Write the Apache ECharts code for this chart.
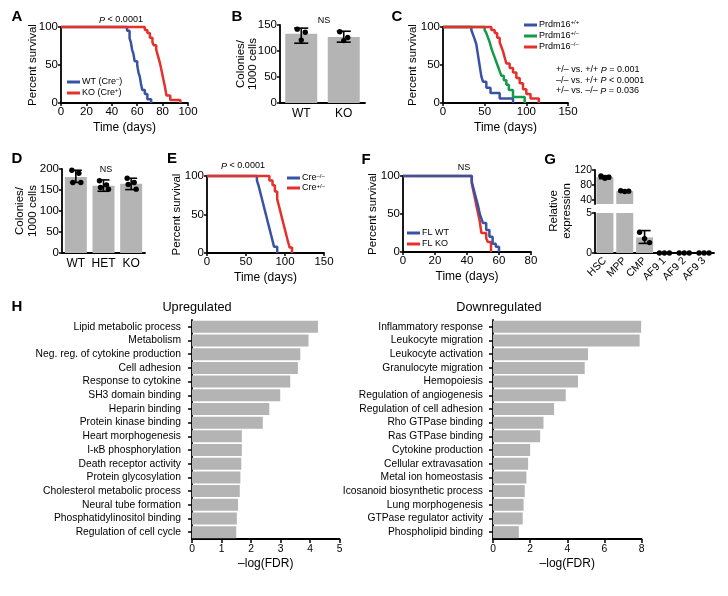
<!DOCTYPE html>
<html>
<head>
<meta charset="utf-8">
<script src="https://cdn.jsdelivr.net/npm/echarts@6/dist/echarts.min.js"></script>
<style>
html, body { margin: 0; padding: 0; background: #fff; }
#chart { width: 728px; height: 596px; }
</style>
</head>
<body>
<div id="chart"></div>
<script>
// ---- data ----
// A: survival, WT vs KO
var aTimeWT = [0, 52, 54, 55, 56, 57, 58, 60, 61, 62, 63, 64, 66, 68, 71];
var aSurvWT = [100, 95, 85, 80, 70, 65, 55, 50, 40, 35, 25, 17, 12, 5, 0];
var aTimeKO = [0, 66, 68, 70, 72, 73, 75, 76, 77, 78, 79, 80, 81, 82, 83, 86, 94];
var aSurvKO = [100, 96, 92, 86, 80, 76, 70, 64, 58, 52, 44, 36, 28, 20, 10, 4, 0];

// B: colonies
var bCats = ['WT', 'KO'];
var bMeans = [133, 127];
var bErrLow = [115, 117];
var bErrHigh = [144, 138];
var bDots = [[142, 136, 121], [137, 126, 120]];

// C: survival by genotype
var cTimeWT = [0, 34, 36, 38, 40, 41, 42, 43, 44, 45, 46, 48, 52, 57, 68, 84];
var cSurvWT = [100, 96, 90, 84, 77, 70, 63, 56, 49, 42, 35, 28, 20, 13, 6, 0];
var cTimeHet = [0, 50, 52, 54, 56, 58, 60, 62, 64, 66, 68, 70, 73, 76, 79, 84, 98];
var cSurvHet = [100, 96, 92, 86, 80, 72, 66, 60, 54, 48, 42, 36, 30, 24, 17, 8, 0];
var cTimeKO = [0, 58, 62, 65, 68, 70, 72, 74, 76, 80, 84, 88, 92, 96, 100, 105, 115];
var cSurvKO = [100, 96, 92, 86, 80, 74, 68, 60, 52, 46, 40, 33, 26, 18, 12, 6, 0];
var cPvals = ['+/\u2013 vs. +/+ {i|P} = 0.001', '\u2013/\u2013 vs. +/+ {i|P} < 0.0001', '+/\u2013 vs. \u2013/\u2013 {i|P} = 0.036'];

// D: colonies
var dCats = ['WT', 'HET', 'KO'];
var dMeans = [181, 160, 165];
var dErrLow = [168, 147, 151];
var dErrHigh = [197, 174, 178];
var dDots = [[197, 190, 168, 168], [172, 162, 156, 152], [178, 168, 163, 152]];

// E: survival Cre
var eTimeWT = [0, 64, 66, 68, 70, 72, 74, 76, 78, 80, 82, 84, 86, 90];
var eSurvWT = [100, 94, 88, 80, 72, 64, 56, 48, 40, 32, 24, 16, 8, 0];
var eTimeKO = [0, 80, 84, 87, 90, 92, 94, 96, 98, 100, 102, 104, 106, 109];
var eSurvKO = [100, 94, 88, 80, 70, 62, 54, 46, 38, 30, 22, 14, 7, 0];

// F: survival FL
var fTimeWT = [0, 43, 44, 45, 46, 47, 48, 49, 50, 52, 54, 56, 58, 60];
var fSurvWT = [100, 92, 84, 76, 68, 60, 50, 44, 38, 29, 20, 11, 7, 0];
var fTimeKO = [0, 43, 44, 45, 46, 47, 48, 49, 52, 53, 55];
var fSurvKO = [100, 90, 80, 70, 60, 50, 40, 25, 18, 13, 0];

// G: relative expression (broken axis)
var gCats = ['HSC', 'MPP', 'CMP', 'AF9 1', 'AF9 2', 'AF9 3'];
var gMeans = [101, 64, 1.95, 0, 0, 0];
var gErrLow = [97, 62.5, 1.2, 0, 0, 0];
var gErrHigh = [105, 65.5, 2.8, 0, 0, 0];
var gDots = [[104, 101, 98], [65, 64, 63], [2.6, 1.8, 1.3], [0, 0, 0], [0, 0, 0], [0, 0, 0]];
var gLowMax = 5;
var gHighMin = 30;

// H: GO terms
var hUpCats = ['Lipid metabolic process', 'Metabolism', 'Neg. reg. of cytokine production', 'Cell adhesion',
  'Response to cytokine', 'SH3 domain binding', 'Heparin binding', 'Protein kinase binding',
  'Heart morphogenesis', 'I-\u03baB phosphorylation', 'Death receptor activity', 'Protein glycosylation',
  'Cholesterol metabolic process', 'Neural tube formation', 'Phosphatidylinositol binding', 'Regulation of cell cycle'];
var hUpVals = [4.27, 3.95, 3.67, 3.59, 3.33, 2.99, 2.62, 2.4, 1.69, 1.69, 1.67, 1.64, 1.62, 1.56, 1.52, 1.5];
var hDownCats = ['Inflammatory response', 'Leukocyte migration', 'Leukocyte activation', 'Granulocyte migration',
  'Hemopoiesis', 'Regulation of angiogenesis', 'Regulation of cell adhesion', 'Rho GTPase binding',
  'Ras GTPase binding', 'Cytokine production', 'Cellular extravasation', 'Metal ion homeostasis',
  'Icosanoid biosynthetic process', 'Lung morphogenesis', 'GTPase regulator activity', 'Phospholipid binding'];
var hDownVals = [7.98, 7.9, 5.12, 4.94, 4.58, 3.92, 3.29, 2.72, 2.54, 2.0, 1.89, 1.8, 1.71, 1.65, 1.6, 1.39];

// ---- styling ----
var FONT = "'Liberation Sans', Arial, Helvetica, sans-serif";
var BLUE = '#3953a4', RED = '#e4312b', GREEN = '#149a4a', GREY = '#b4b4b4';

var myChart = echarts.init(document.getElementById('chart'));

function merge(a, b) {
  for (var k in b) {
    if (b[k] && typeof b[k] === 'object' && !Array.isArray(b[k]) && a[k] && typeof a[k] === 'object') merge(a[k], b[k]);
    else a[k] = b[k];
  }
  return a;
}
function pairs(t, s) { return t.map(function (x, i) { return [x, s[i]]; }); }

function axis(o) {
  return merge({
    gridIndex: 0,
    axisLine: { show: true, onZero: false, lineStyle: { color: '#000', width: 1.8 } },
    axisTick: { show: true, length: 3, lineStyle: { color: '#000', width: 1.5 } },
    axisLabel: { color: '#000', fontSize: 11.5, margin: 3, fontFamily: FONT },
    splitLine: { show: false },
    nameLocation: 'middle',
    nameMoveOverlap: false,
    nameTextStyle: { color: '#000', fontSize: 11.5, fontFamily: FONT }
  }, o);
}
function survX(g, max, interval, gap) {
  return axis({ gridIndex: g, type: 'value', min: 0, max: max, interval: interval, name: 'Time (days)', nameGap: gap || 19,
    nameTextStyle: { fontSize: 12 } });
}
function survY(g, gap) {
  return axis({ gridIndex: g, type: 'value', min: 0, max: 100, interval: 50, name: 'Percent survival', nameGap: gap });
}
function km(name, g, t, s, color, z) {
  return { type: 'line', name: name, xAxisIndex: g, yAxisIndex: g, data: pairs(t, s), step: 'end', symbol: 'none',
    clip: false, z: z, color: color, lineStyle: { color: color, width: 2.5 }, itemStyle: { color: color } };
}
function errSeries(g, low, high, cap) {
  var data = [];
  low.forEach(function (v, i) { if (high[i] > v) data.push([i, v, high[i]]); });
  return { type: 'custom', xAxisIndex: g, yAxisIndex: g, data: data, clip: false, z: 5,
    renderItem: function (params, api) {
      var a = api.coord([api.value(0), api.value(1)]);
      var b = api.coord([api.value(0), api.value(2)]);
      var st = { stroke: '#000', lineWidth: 1.6 };
      return { type: 'group', children: [
        { type: 'line', shape: { x1: a[0], y1: a[1], x2: b[0], y2: b[1] }, style: st },
        { type: 'line', shape: { x1: a[0] - cap, y1: a[1], x2: a[0] + cap, y2: a[1] }, style: st },
        { type: 'line', shape: { x1: b[0] - cap, y1: b[1], x2: b[0] + cap, y2: b[1] }, style: st }
      ] };
    } };
}
function dotSeries(g, data, offsets) {
  return { type: 'custom', xAxisIndex: g, yAxisIndex: g, data: data, clip: false, z: 6,
    renderItem: function (params, api) {
      var p = api.coord([api.value(0), api.value(1)]);
      return { type: 'circle', shape: { cx: p[0] + offsets[api.value(2)], cy: p[1], r: 2.7 }, style: { fill: '#000' } };
    } };
}
function flatDots(groups, keep) {
  var out = [];
  groups.forEach(function (grp, i) {
    grp.forEach(function (v, j) { if (!keep || keep(v)) out.push([i, v, j]); });
  });
  return out;
}
function supFmt(name) { return name.replace(/(Cre|Prdm16)([+\u2013\/]+)/, '$1{s|$2}'); }
function legend(names, left, top, lh) {
  return { data: names, left: left, top: top, orient: 'vertical', icon: 'rect', itemWidth: 13, itemHeight: 3,
    itemGap: 0, padding: 0, selectedMode: false, formatter: supFmt,
    textStyle: { color: '#000', fontSize: 9, fontFamily: FONT, lineHeight: lh, padding: [0, 0, 0, -3],
      rich: { s: { fontSize: 6, fontFamily: FONT, verticalAlign: 'top', lineHeight: lh } } } };
}
function txt(x, y, text, st) {
  return { type: 'text', x: x, y: y, silent: true,
    style: merge({ text: text, fill: '#000', fontFamily: FONT, fontSize: 9, align: 'left', verticalAlign: 'middle',
      textAlign: 'left', textVerticalAlign: 'middle',
      rich: { i: { fontStyle: 'italic', fontSize: 9, fontFamily: FONT } } }, st || {}) };
}
function letter(x, y, s) { return txt(x, y, s, { fontSize: 15, fontWeight: 'bold', align: 'center', textAlign: 'center' }); }

var grids = [
  { left: 61, top: 27, width: 127, height: 76 },    // 0 A
  { left: 280, top: 25, width: 85, height: 78 },    // 1 B
  { left: 443, top: 27, width: 125, height: 76 },   // 2 C
  { left: 62, top: 169, width: 83, height: 84 },    // 3 D
  { left: 207, top: 176, width: 117, height: 77 },  // 4 E
  { left: 403, top: 176, width: 128, height: 76 },  // 5 F
  { left: 595, top: 170, width: 119, height: 34 },  // 6 G upper
  { left: 595, top: 213, width: 119, height: 40 },  // 7 G lower
  { left: 192, top: 320, width: 147.5, height: 219 }, // 8 H up
  { left: 493, top: 320, width: 148.5, height: 219 }  // 9 H down
].map(function (g) { g.containLabel = false; g.outerBoundsMode = 'none'; return g; });

var catX = function (g, data, extra) {
  return axis(merge({ gridIndex: g, type: 'category', data: data, axisTick: { show: false },
    axisLabel: { fontSize: 12, margin: 5, interval: 0 } }, extra || {}));
};

// the broken G axis is two stacked grids: each segment shows its part of every bar
var gUpperBars = gMeans.map(function (v) { return v > gLowMax ? v : '-'; });
var gLowerBars = gMeans.map(function (v) { return Math.min(v, gLowMax); });
var gInUpper = function (i) { return gMeans[i] > gLowMax; };

var option = {
  animation: false,
  backgroundColor: '#fff',
  textStyle: { fontFamily: FONT },
  grid: grids,
  xAxis: [
    survX(0, 100, 20),
    catX(1, bCats),
    survX(2, 150, 50),
    catX(3, dCats),
    survX(4, 150, 50),
    survX(5, 80, 20),
    catX(6, gCats, { show: false }),
    catX(7, gCats, { axisLabel: { rotate: 45, fontSize: 10.5, margin: 6 } }),
    axis({ gridIndex: 8, type: 'value', min: 0, max: 5, interval: 1, name: '\u2013log(FDR)', nameGap: 19,
      axisTick: { length: 4 }, axisLabel: { fontSize: 10.3, margin: 5 }, nameTextStyle: { fontSize: 12 } }),
    axis({ gridIndex: 9, type: 'value', min: 0, max: 8, interval: 2, name: '\u2013log(FDR)', nameGap: 19,
      axisTick: { length: 4 }, axisLabel: { fontSize: 10.3, margin: 5 }, nameTextStyle: { fontSize: 12 } })
  ],
  yAxis: [
    survY(0, 22),
    axis({ gridIndex: 1, type: 'value', min: 0, max: 150, interval: 50, name: 'Colonies/\n1000 cells', nameGap: 21,
      nameTextStyle: { lineHeight: 12 } }),
    survY(2, 24),
    axis({ gridIndex: 3, type: 'value', min: 0, max: 200, interval: 50, name: 'Colonies/\n1000 cells', nameGap: 23,
      nameTextStyle: { lineHeight: 13 } }),
    survY(4, 24),
    survY(5, 24),
    axis({ gridIndex: 6, type: 'value', min: gHighMin, max: 120, axisLabel: { fontSize: 10.5, customValues: [40, 80, 120] },
      axisTick: { customValues: [40, 80, 120] } }),
    axis({ gridIndex: 7, type: 'value', min: 0, max: gLowMax, interval: 5, axisLabel: { fontSize: 10.5 } }),
    axis({ gridIndex: 8, type: 'category', data: hUpCats, inverse: true,
      axisTick: { length: 4, alignWithLabel: true }, axisLabel: { fontSize: 10.3, margin: 11, interval: 0 } }),
    axis({ gridIndex: 9, type: 'category', data: hDownCats, inverse: true,
      axisTick: { length: 4, alignWithLabel: true }, axisLabel: { fontSize: 10.3, margin: 10, interval: 0 } })
  ],
  legend: [
    legend(['WT (Cre\u2013)', 'KO (Cre+)'], 67, 76.5, 11),
    legend(['Prdm16+/+', 'Prdm16+/\u2013', 'Prdm16\u2013/\u2013'], 524, 19.5, 11),
    legend(['Cre\u2013/\u2013', 'Cre+/\u2013'], 287, 173, 10),
    legend(['FL WT', 'FL KO'], 407, 227.5, 11)
  ],
  series: [
    // A
    km('WT (Cre\u2013)', 0, aTimeWT, aSurvWT, BLUE, 2),
    km('KO (Cre+)', 0, aTimeKO, aSurvKO, RED, 3),
    // B
    { type: 'bar', xAxisIndex: 1, yAxisIndex: 1, data: bMeans, barWidth: 32, itemStyle: { color: GREY } },
    errSeries(1, bErrLow, bErrHigh, 7),
    dotSeries(1, flatDots(bDots), [-4, 4, 0]),
    // C
    km('Prdm16+/+', 2, cTimeWT, cSurvWT, BLUE, 2),
    km('Prdm16+/\u2013', 2, cTimeHet, cSurvHet, GREEN, 3),
    km('Prdm16\u2013/\u2013', 2, cTimeKO, cSurvKO, RED, 4),
    // D
    { type: 'bar', xAxisIndex: 3, yAxisIndex: 3, data: dMeans, barWidth: 22, itemStyle: { color: GREY } },
    errSeries(3, dErrLow, dErrHigh, 6),
    dotSeries(3, flatDots(dDots), [-4, 3, -3, 5]),
    // E
    km('Cre\u2013/\u2013', 4, eTimeWT, eSurvWT, BLUE, 2),
    km('Cre+/\u2013', 4, eTimeKO, eSurvKO, RED, 3),
    // F
    km('FL KO', 5, fTimeKO, fSurvKO, RED, 2),
    km('FL WT', 5, fTimeWT, fSurvWT, BLUE, 3),
    // G upper segment
    { type: 'bar', xAxisIndex: 6, yAxisIndex: 6, barWidth: 17, itemStyle: { color: GREY }, data: gUpperBars },
    errSeries(6, gErrLow.map(function (v, i) { return gInUpper(i) ? v : 0; }),
      gErrHigh.map(function (v, i) { return gInUpper(i) ? v : 0; }), 6),
    dotSeries(6, flatDots(gDots, function (v) { return v > gLowMax; }), [-4, 4, 0]),
    // G lower segment
    { type: 'bar', xAxisIndex: 7, yAxisIndex: 7, barWidth: 17, itemStyle: { color: GREY }, data: gLowerBars },
    errSeries(7, gErrLow.map(function (v, i) { return gInUpper(i) ? 0 : v; }),
      gErrHigh.map(function (v, i) { return gInUpper(i) ? 0 : v; }), 6),
    dotSeries(7, flatDots(gDots, function (v) { return v <= gLowMax; }), [-5, 0, 5]),
    // H
    { type: 'bar', xAxisIndex: 8, yAxisIndex: 8, data: hUpVals, barWidth: 12, itemStyle: { color: GREY } },
    { type: 'bar', xAxisIndex: 9, yAxisIndex: 9, data: hDownVals, barWidth: 12, itemStyle: { color: GREY } }
  ],
  graphic: [
    letter(17, 17, 'A'), letter(237, 17, 'B'), letter(397, 17, 'C'),
    letter(17, 159, 'D'), letter(172, 159, 'E'), letter(366, 160, 'F'), letter(550, 160, 'G'),
    letter(17, 307, 'H'),
    txt(121, 20, '{i|P} < 0.0001', { align: 'center', textAlign: 'center' }),
    txt(324, 21, 'NS', { align: 'center', textAlign: 'center' }),
    txt(556, 70, cPvals[0]),
    txt(556, 80.5, cPvals[1]),
    txt(556, 91, cPvals[2]),
    txt(106, 170, 'NS', { align: 'center', textAlign: 'center' }),
    txt(243, 166, '{i|P} < 0.0001', { align: 'center', textAlign: 'center' }),
    txt(464, 168, 'NS', { align: 'center', textAlign: 'center' }),
    { type: 'text', x: 560, y: 211, rotation: Math.PI / 2, silent: true,
      style: { text: 'Relative\nexpression', fill: '#000', fontFamily: FONT, fontSize: 11.5, lineHeight: 13,
        align: 'center', verticalAlign: 'middle', textAlign: 'center', textVerticalAlign: 'middle' } },
    txt(197, 307, 'Upregulated', { fontSize: 12.7, align: 'center', textAlign: 'center' }),
    txt(499, 307, 'Downregulated', { fontSize: 12.7, align: 'center', textAlign: 'center' })
  ]
};

myChart.setOption(option);

window.onresize = function () {
  myChart.resize();
};
</script>
</body>
</html>
